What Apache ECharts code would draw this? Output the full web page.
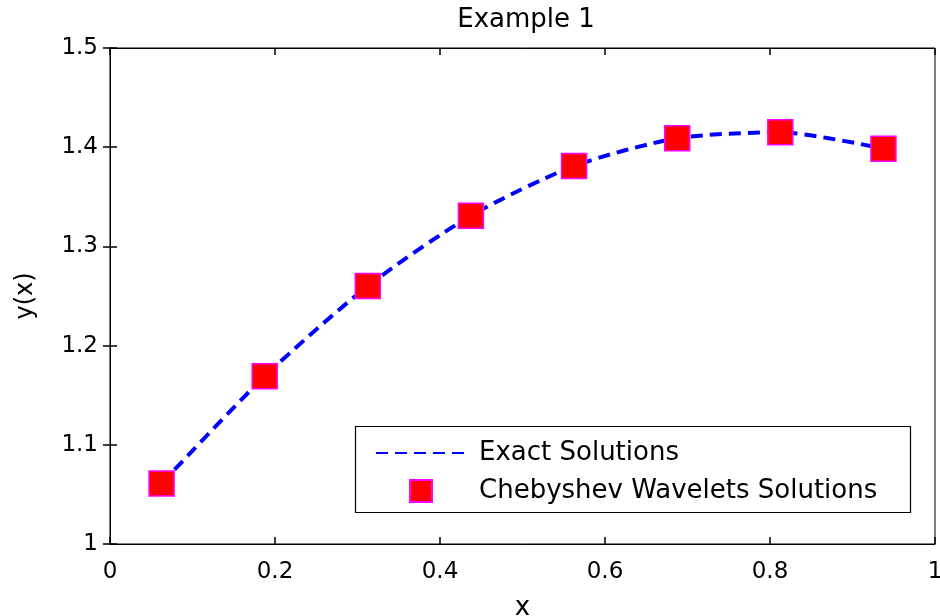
<!DOCTYPE html>
<html>
<head>
<meta charset="utf-8">
<script src="https://cdn.jsdelivr.net/npm/echarts@6/dist/echarts.min.js"></script>
<style>
html,body{margin:0;padding:0;background:#fff;}
#main{width:940px;height:616px;}
</style>
</head>
<body>
<div id="main"></div>
<script>
const titleText = 'Example 1';
const xName = 'x';
const yName = 'y(x)';
const xValues = [0.0625, 0.1875, 0.3125, 0.4375, 0.5625, 0.6875, 0.8125, 0.9375];
const exactValues = [1.061, 1.169, 1.260, 1.331, 1.381, 1.409, 1.415, 1.3985];
const waveletValues = [1.061, 1.169, 1.260, 1.331, 1.381, 1.409, 1.415, 1.3985];
const seriesNames = ['Exact Solutions', 'Chebyshev Wavelets Solutions'];
const xTicks = [0, 0.2, 0.4, 0.6, 0.8, 1];
const yTicks = [1, 1.1, 1.2, 1.3, 1.4, 1.5];

const FONT = 'DejaVu Sans';
const chart = echarts.init(document.getElementById('main'), null, {renderer: 'canvas'});

function pairs(xs, ys) { return xs.map((x, i) => [x, ys[i]]); }

const tickFmt = v => String(Math.round(v * 10) / 10);

const baseX = {
  type: 'value', min: xTicks[0], max: xTicks[xTicks.length - 1], interval: 0.2,
  splitLine: {show: false},
  axisLine: {show: true, lineStyle: {color: '#000', width: 1}},
  axisTick: {show: true, inside: true, length: 7, lineStyle: {color: '#000', width: 1.5}}
};
const baseY = {
  type: 'value', min: yTicks[0], max: yTicks[yTicks.length - 1], interval: 0.1,
  splitLine: {show: false},
  axisLine: {show: true, lineStyle: {color: '#000', width: 1}},
  axisTick: {show: true, inside: true, length: 7, lineStyle: {color: '#000', width: 1.5}}
};

const option = {
  backgroundColor: '#fff',
  animation: false,
  title: {
    text: titleText, left: 521, top: 2, textAlign: 'center',
    textStyle: {fontFamily: FONT, fontSize: 26, fontWeight: 'normal', color: '#000'}
  },
  grid: {left: 110, right: 5, top: 48, bottom: 72, show: true, borderColor: '#000', borderWidth: 1,
         containLabel: false, outerBoundsMode: 'none'},
  xAxis: [
    Object.assign({}, baseX, {
      position: 'bottom', name: xName, nameLocation: 'middle', nameGap: 51,
      nameMoveOverlap: false,
      nameTextStyle: {fontFamily: FONT, fontSize: 26, color: '#000'},
      axisLabel: {show: true, margin: 17, fontFamily: FONT, fontSize: 23, color: '#000', formatter: tickFmt}
    }),
    Object.assign({}, baseX, {position: 'top', axisLabel: {show: false}})
  ],
  yAxis: [
    Object.assign({}, baseY, {
      position: 'left', name: yName, nameLocation: 'middle', nameGap: 72,
      nameMoveOverlap: false,
      nameTextStyle: {fontFamily: FONT, fontSize: 24, color: '#000'},
      axisLabel: {show: true, margin: 12, fontFamily: FONT, fontSize: 23, color: '#000', formatter: tickFmt}
    }),
    Object.assign({}, baseY, {position: 'right', axisLabel: {show: false}})
  ],
  legend: {
    orient: 'vertical', left: 375, top: 440, itemWidth: 90, itemHeight: 22, itemGap: 12,
    padding: 0, symbolKeepAspect: true,
    textStyle: {fontFamily: FONT, fontSize: 26, color: '#000', padding: [0, 0, 0, 8]},
    data: [
      {name: seriesNames[0], itemStyle: {opacity: 0, color: 'rgba(0,0,0,0)', borderWidth: 0}},
      {name: seriesNames[1], icon: 'path://M0,0L10,0L10,10L0,10Z'}
    ]
  },
  graphic: [{
    type: 'rect', shape: {x: 355.5, y: 426.5, width: 555, height: 86},
    style: {fill: '#fff', stroke: '#000', lineWidth: 1.2}, z: 1, silent: true
  }],
  series: [
    {
      name: seriesNames[0], type: 'line', data: pairs(xValues, exactValues),
      showSymbol: false, symbol: 'none', smooth: 0.25,
      lineStyle: {color: '#0000ff', width: 4, type: [12, 7]},
      itemStyle: {color: '#0000ff'}, z: 2
    },
    {
      name: seriesNames[1], type: 'scatter', data: pairs(xValues, waveletValues),
      symbol: 'rect', symbolSize: 25,
      itemStyle: {color: '#ff0000', borderColor: '#ff00ff', borderWidth: 1.5, opacity: 1}, z: 3
    }
  ]
};
chart.setOption(option);
</script>
</body>
</html>
